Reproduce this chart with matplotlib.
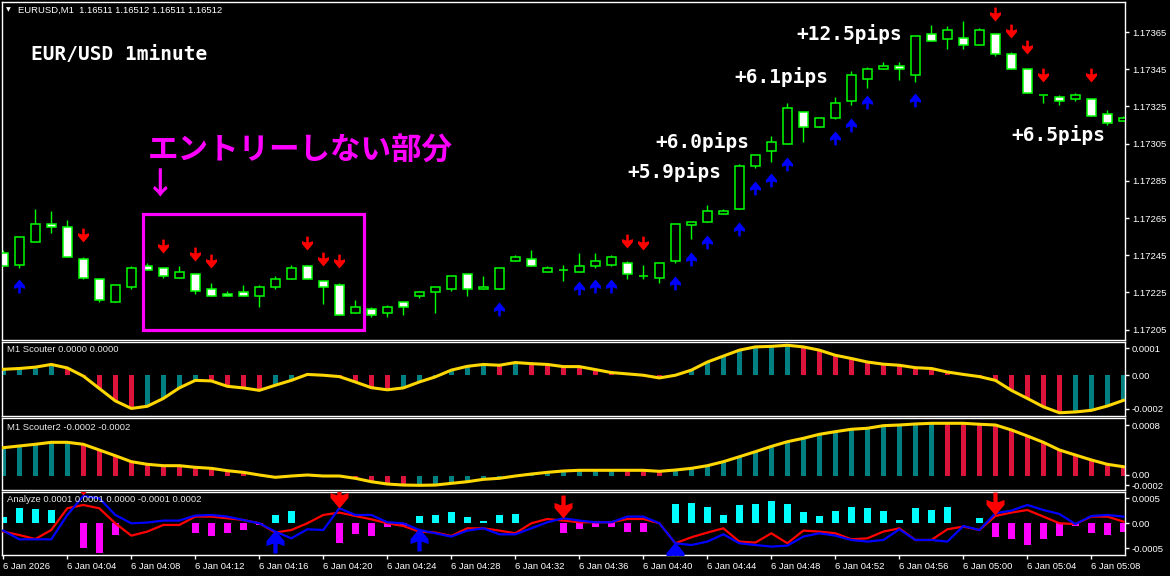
import matplotlib
matplotlib.use('Agg')
import matplotlib.pyplot as plt
from matplotlib.path import Path
from matplotlib.patches import Rectangle

plt.rcParams['font.family'] = ['Liberation Sans', 'DejaVu Sans']

W, H = 1170, 576

# ---------------- data ----------------
time_labels = ['6 Jan 2026', '6 Jan 04:04', '6 Jan 04:08', '6 Jan 04:12', '6 Jan 04:16',
               '6 Jan 04:20', '6 Jan 04:24', '6 Jan 04:28', '6 Jan 04:32', '6 Jan 04:36',
               '6 Jan 04:40', '6 Jan 04:44', '6 Jan 04:48', '6 Jan 04:52', '6 Jan 04:56',
               '6 Jan 05:00', '6 Jan 05:04', '6 Jan 05:08']

opens = [1.17246, 1.17240, 1.17252, 1.17262, 1.17260, 1.17243, 1.17232, 1.17220, 1.17228, 1.17239,
         1.17238, 1.17233, 1.17235, 1.17227, 1.17224, 1.17225, 1.17223, 1.17228, 1.17232, 1.17239,
         1.17231, 1.17229, 1.17214, 1.17216, 1.17214, 1.17220, 1.17223, 1.17225, 1.17227, 1.17235,
         1.17227, 1.17227, 1.17242, 1.17243, 1.17236, 1.17237, 1.17236, 1.17239, 1.17240, 1.17241,
         1.17234, 1.17233, 1.17242, 1.17261, 1.17263, 1.17267, 1.17270, 1.17293, 1.17301, 1.17305,
         1.17322, 1.17314, 1.17319, 1.17328, 1.17340, 1.17345, 1.17347, 1.17342, 1.17364, 1.17361,
         1.17362, 1.17358, 1.17364, 1.17353, 1.17345, 1.17331, 1.17330, 1.17329, 1.17329, 1.17321,
         1.17317]
highs = [1.17248, 1.17255, 1.17270, 1.17269, 1.17264, 1.17244, 1.17232, 1.17229, 1.17239, 1.17241,
         1.17238, 1.17239, 1.17235, 1.17230, 1.17226, 1.17229, 1.17229, 1.17234, 1.17240, 1.17240,
         1.17231, 1.17230, 1.17221, 1.17217, 1.17218, 1.17220, 1.17226, 1.17228, 1.17234, 1.17235,
         1.17234, 1.17238, 1.17245, 1.17248, 1.17239, 1.17240, 1.17246, 1.17246, 1.17245, 1.17242,
         1.17240, 1.17241, 1.17262, 1.17263, 1.17272, 1.17270, 1.17294, 1.17299, 1.17309, 1.17327,
         1.17322, 1.17319, 1.17330, 1.17344, 1.17346, 1.17349, 1.17349, 1.17363, 1.17369, 1.17368,
         1.17371, 1.17367, 1.17364, 1.17354, 1.17345, 1.17331, 1.17331, 1.17332, 1.17329, 1.17323,
         1.17320]
lows = [1.17239, 1.17238, 1.17252, 1.17257, 1.17244, 1.17232, 1.17220, 1.17220, 1.17227, 1.17237,
        1.17233, 1.17233, 1.17224, 1.17223, 1.17223, 1.17223, 1.17217, 1.17227, 1.17232, 1.17232,
        1.17219, 1.17213, 1.17214, 1.17212, 1.17212, 1.17213, 1.17222, 1.17214, 1.17226, 1.17223,
        1.17227, 1.17227, 1.17242, 1.17239, 1.17236, 1.17231, 1.17236, 1.17238, 1.17239, 1.17232,
        1.17232, 1.17230, 1.17241, 1.17254, 1.17263, 1.17267, 1.17270, 1.17292, 1.17295, 1.17305,
        1.17306, 1.17314, 1.17318, 1.17326, 1.17335, 1.17345, 1.17339, 1.17338, 1.17360, 1.17356,
        1.17356, 1.17358, 1.17352, 1.17345, 1.17332, 1.17327, 1.17326, 1.17328, 1.17320, 1.17315,
        1.17317]
closes = [1.17239, 1.17255, 1.17262, 1.17260, 1.17244, 1.17233, 1.17221, 1.17229, 1.17238, 1.17237,
          1.17234, 1.17236, 1.17226, 1.17223, 1.17223, 1.17223, 1.17228, 1.17232, 1.17238, 1.17232,
          1.17228, 1.17213, 1.17217, 1.17213, 1.17217, 1.17217, 1.17225, 1.17228, 1.17234, 1.17227,
          1.17228, 1.17238, 1.17244, 1.17239, 1.17238, 1.17237, 1.17239, 1.17242, 1.17244, 1.17235,
          1.17234, 1.17241, 1.17262, 1.17263, 1.17269, 1.17269, 1.17293, 1.17299, 1.17306, 1.17324,
          1.17314, 1.17319, 1.17327, 1.17342, 1.17345, 1.17347, 1.17345, 1.17363, 1.17360, 1.17366,
          1.17358, 1.17366, 1.17353, 1.17345, 1.17332, 1.17331, 1.17328, 1.17331, 1.17320, 1.17316,
          1.17319]

price_ticks = [1.17205, 1.17225, 1.17245, 1.17265, 1.17285, 1.17305, 1.17325, 1.17345, 1.17365]

# signal arrows on the price chart (price of the arrow tip)
sell_idx = [5, 10, 12, 13, 19, 20, 21, 39, 40, 62, 63, 64, 65, 68]
sell_px = [1.17252, 1.17246, 1.17242, 1.17238, 1.17248, 1.17239, 1.17238, 1.17249, 1.17248,
           1.17371, 1.17362, 1.17353, 1.17338, 1.17338]
buy_idx = [1, 31, 36, 37, 38, 42, 43, 44, 46, 47, 48, 49, 52, 53, 54, 57]
buy_px = [1.17232, 1.17220, 1.17231, 1.17232, 1.17232, 1.17234, 1.17247, 1.17256, 1.17263,
          1.17285, 1.17289, 1.17298, 1.17312, 1.17319, 1.17331, 1.17332]

# "no entry" box (candle index range, price range)
box_x = (8.71, 22.56)
box_y = (1.17205, 1.17267)

# M1 Scouter (x 1e-5)
scouter = [2.2, 2.5, 3.0, 4.0, 2.7, -0.3, -4.9, -9.5, -12.3, -11.5,
           -8.6, -4.7, -1.9, -2.1, -4.1, -4.7, -5.6, -3.7, -1.9, 0.3,
           0.0, -0.5, -2.5, -4.6, -5.4, -4.7, -2.5, -0.6, 1.9, 3.3,
           4.0, 3.7, 4.7, 4.3, 4.0, 3.2, 3.2, 2.1, 1.0, 0.5,
           0.0, -1.0, 0.0, 1.9, 4.9, 7.1, 9.3, 10.5, 10.7, 11.1,
           10.5, 9.3, 7.4, 6.2, 4.9, 4.1, 3.7, 2.8, 2.5, 1.2,
           0.3, -0.5, -1.9, -5.6, -8.6, -11.7, -13.9, -13.6, -13.0, -11.4, -9.3]
scouter_col = ('TTTT' 'RRRRR' 'TTTT' 'RRRR' 'TTT' 'RRRRR' 'TTTTTT' 'R' 'T' 'RRRRRRRRR'
               'TTTTTTTT' 'RRRRRRRRRRRRRRRRR' 'TTTT')

# M1 Scouter2 (x 1e-5)
scouter2 = [41.7, 44.2, 46.7, 49.6, 49.6, 46.7, 38.3, 29.9, 21.1, 17.2,
            15.2, 15.2, 12.8, 11.3, 7.8, 5.4, 1.5, -1.9, 0.0, 1.5,
            0.0, 0.0, -3.4, -8.4, -11.8, -13.3, -13.7, -13.3, -10.8, -8.4,
            -4.9, -3.4, 0.0, 2.9, 5.4, 7.4, 8.4, 8.4, 8.4, 8.4,
            8.4, 6.9, 8.8, 11.3, 15.2, 21.1, 28.4, 35.8, 43.6, 50.5,
            55.5, 61.4, 65.3, 68.8, 70.3, 74.1, 75.1, 76.6, 77.6, 77.6,
            77.6, 76.2, 75.1, 67.8, 58.9, 49.6, 38.3, 30.9, 23.6, 17.2, 13.7]
scouter2_col = ('TTTTT' 'RRRRRRRRRRRR' 'RTTRR' 'RRRR' 'TTTTTTTTTTTTT' 'RRR'
                'TTTTTTTTTTTTTTTTT' 'RRRRRRRRRRRR')

# Analyze (x 1e-5)
an_hist = [11.2, 25.1, 23.9, 22.2, 0, -40.6, -49.0, -19.6, 0, 0,
           0, 0, -16.7, -20.6, -15.5, -11.2, -3.3, 13.9, 21.2, 0,
           0, -32.3, -17.9, -21.2, -6.7, -4.5, 12.2, 13.9, 19.6, 10.0,
           3.8, 13.9, 15.5, 0, 0, -15.5, -10.0, -5.5, -6.7, -13.9,
           -13.9, 0, 32.3, 34.6, 27.9, 13.9, 30.6, 32.3, 37.3, 32.3,
           18.9, 12.2, 20.6, 27.9, 26.3, 20.6, 5.5, 26.3, 22.2, 27.9,
           1.2, 9.5, -22.2, -26.8, -36.3, -26.8, -21.2, -3.8, -15.5, -19.6, -13.9]
an_red = [-13.9, -19.6, -26.3, -11.2, 25.1, 30.6, 25.1, 0, -20.6, -13.9,
          -2.8, -2.8, 11.2, 11.2, 8.4, 5.5, 0, -15.5, -11.2, 0,
          13.9, 17.9, 12.2, 6.7, 0, -4.5, -13.9, -15.5, -21.2, -8.4,
          -8.4, -12.2, -16.7, 0, 7.2, 4.5, 1.7, 1.7, 1.7, 7.2,
          7.2, 0, -33.4, -23.4, -15.5, -8.4, -30.6, -32.3, -16.7, -33.4,
          -12.2, -13.9, -16.7, -26.8, -25.1, -13.9, -8.4, -27.9, -27.9, -10.0,
          -5.5, -11.2, 12.2, 17.9, 22.2, 11.2, 0, -1.2, 11.2, 11.2, 2.8]
an_blue = [-12.2, -26.8, -26.8, -26.8, 13.9, 45.6, 41.8, 13.9, 0, 1.2,
           4.5, 4.5, 12.9, 13.9, 11.2, 5.5, 0, -13.9, -25.1, -10.0,
           -11.2, 25.1, 13.9, 13.9, 1.7, 0, -11.2, -16.7, -22.2, -12.2,
           -8.4, -18.4, -18.4, -8.4, 1.7, 8.4, 4.5, 1.7, 1.7, 11.2,
           11.2, 0, -33.4, -36.3, -30.6, -18.4, -33.4, -36.3, -39.0, -37.3,
           -22.2, -16.7, -20.6, -27.9, -30.6, -27.9, -10.0, -27.9, -27.9, -30.6,
           -4.5, -11.2, 16.7, 21.2, 30.6, 22.2, 15.5, -1.2, 12.2, 13.9, 11.2]
an_sell_idx = [5, 21, 35, 62]
an_sell_val = [47.3, 25.6, 8.9, 13.9]
an_buy_idx = [17, 26, 42]
an_buy_val = [-11.2, -7.9, -31.3]

# ---------------- figure ----------------
LIME = '#00FF00'
TEAL = '#008080'
CRIMSON = '#DC143C'
GOLD = '#FFD700'
MAGENTA = '#FF00FF'

fig = plt.figure(figsize=(W / 100, H / 100), dpi=100, facecolor='black')


def px_axes(top, bottom):
    ax = fig.add_axes([2 / W, 1 - bottom / H, 1123 / W, (bottom - top) / H])
    ax.set_facecolor('black')
    for s in ax.spines.values():
        s.set_color('white')
        s.set_linewidth(1)
    ax.set_xlim(-0.08, 70.1)
    ax.yaxis.tick_right()
    ax.tick_params(axis='y', colors='white', length=3, width=1, labelsize=6.8, pad=2)
    ax.set_xticks([])
    return ax


ax0 = px_axes(1.7, 339.7)
ax1 = px_axes(341.5, 416)
ax2 = px_axes(418, 490)
ax3 = px_axes(491.7, 555)

# arrow markers, tip at the origin
down_v = [(-0.13, 1.4), (0.13, 1.4), (0.13, 0.8), (0.55, 0.95), (0.55, 0.65), (0, 0),
          (-0.55, 0.65), (-0.55, 0.95), (-0.13, 0.8)]
up_v = [(x, -y) for x, y in down_v]
down_arrow = Path(down_v + [down_v[0]], closed=True)
up_arrow = Path(up_v + [up_v[0]], closed=True)

# ---- candles ----
x = list(range(len(opens)))
ax0.vlines(x, lows, highs, color=LIME, lw=1, zorder=2)
bottoms = [min(o, c) for o, c in zip(opens, closes)]
heights = [abs(c - o) for o, c in zip(opens, closes)]
fills = ['black' if c >= o else 'white' for o, c in zip(opens, closes)]
ax0.bar(x, heights, bottom=bottoms, width=0.56, color=fills, edgecolor=LIME, linewidth=1.1, zorder=3)

ax0.plot(sell_idx, sell_px, ls='none', marker=down_arrow, ms=20, mfc='#FF0000', mec='none', zorder=4)
ax0.plot(buy_idx, buy_px, ls='none', marker=up_arrow, ms=20, mfc='#0000FF', mec='none', zorder=4)

ax0.add_patch(Rectangle((box_x[0], box_y[0]), box_x[1] - box_x[0], box_y[1] - box_y[0],
                        fill=False, edgecolor=MAGENTA, lw=2.3, zorder=5))

ax0.set_ylim(1.171996, 1.173813)
ax0.set_yticks(price_ticks)
ax0.set_yticklabels(['%.5f' % p for p in price_ticks])

# ---- M1 Scouter ----
ax1.bar(x, scouter, width=0.3, color=[TEAL if c == 'T' else CRIMSON for c in scouter_col], zorder=2)
ax1.plot(x, scouter, color=GOLD, lw=2.2, zorder=3)
ax1.set_ylim(-15.1, 12.5)
ax1.set_yticks([10, 0, -12.5])
ax1.set_yticklabels(['0.0001', '0.00', '-0.0002'])

# ---- M1 Scouter2 ----
ax2.bar(x, scouter2, width=0.3, color=[TEAL if c == 'T' else CRIMSON for c in scouter2_col], zorder=2)
ax2.plot(x, scouter2, color=GOLD, lw=2.2, zorder=3)
ax2.set_ylim(-20.6, 85.4)
ax2.set_yticks([75, 2.0, -13.5])
ax2.set_yticklabels(['0.0008', '0.00', '-0.0002'])

# ---- Analyze ----
ax3.bar(x, an_hist, width=0.43, color=['#00FFFF' if v > 0 else MAGENTA for v in an_hist], zorder=2)
ax3.plot(x, an_red, color='#FF0000', lw=1.6, zorder=3)
ax3.plot(x, an_blue, color='#0000FF', lw=1.6, zorder=3)
ax3.plot(an_sell_idx, an_sell_val, ls='none', marker=down_arrow, ms=33, mfc='#FF0000', mec='none', zorder=4)
ax3.plot(an_buy_idx, an_buy_val, ls='none', marker=up_arrow, ms=33, mfc='#0000FF', mec='none', zorder=4)
ax3.set_ylim(-53, 52.8)
ax3.set_yticks([41.8, 0, -41.8])
ax3.set_yticklabels(['0.0005', '0.00', '-0.0005'])
ax3.set_xticks(list(range(0, 69, 4)))
ax3.set_xticklabels(time_labels, ha='left')
ax3.tick_params(axis='x', colors='white', length=3, width=1, labelsize=6.8, pad=2)


# ---- texts (pixel positions) ----
def ftext(px, py, s, **kw):
    fig.text(px / W, 1 - py / H, s, va='center', ha='left', **kw)


ftext(6, 10, '\u25bc', color='white', fontsize=4.5, family=['DejaVu Sans'])
ftext(18, 10, 'EURUSD,M1  1.16511 1.16512 1.16511 1.16512', color='white', fontsize=6.8)
ftext(7, 350, 'M1 Scouter 0.0000 0.0000', color='#E8E8E8', fontsize=6.8)
ftext(7, 427, 'M1 Scouter2 -0.0002 -0.0002', color='#E8E8E8', fontsize=6.8)
ftext(7, 500, 'Analyze 0.0001 0.0001 0.0000 -0.0001 0.0002', color='#E8E8E8', fontsize=6.8)

big = dict(color='white', fontsize=14, fontweight='bold', family=['DejaVu Sans Mono'])
ftext(31, 54, 'EUR/USD 1minute', **big)
ftext(796, 34, '+12.5pips', **big)
ftext(734, 77, '+6.1pips', **big)
ftext(655, 142, '+6.0pips', **big)
ftext(627, 172, '+5.9pips', **big)
ftext(1011, 135, '+6.5pips', **big)

jp = dict(color=MAGENTA, fontsize=22, fontweight='bold', family=['Noto Sans CJK JP', 'DejaVu Sans'])
ftext(148, 151, 'エントリーしない部分', **jp)
fig.text(160 / W, 1 - 185 / H, '\u2193', va='center', ha='center', **jp)

fig.savefig('out.png', dpi=100, facecolor='black')
